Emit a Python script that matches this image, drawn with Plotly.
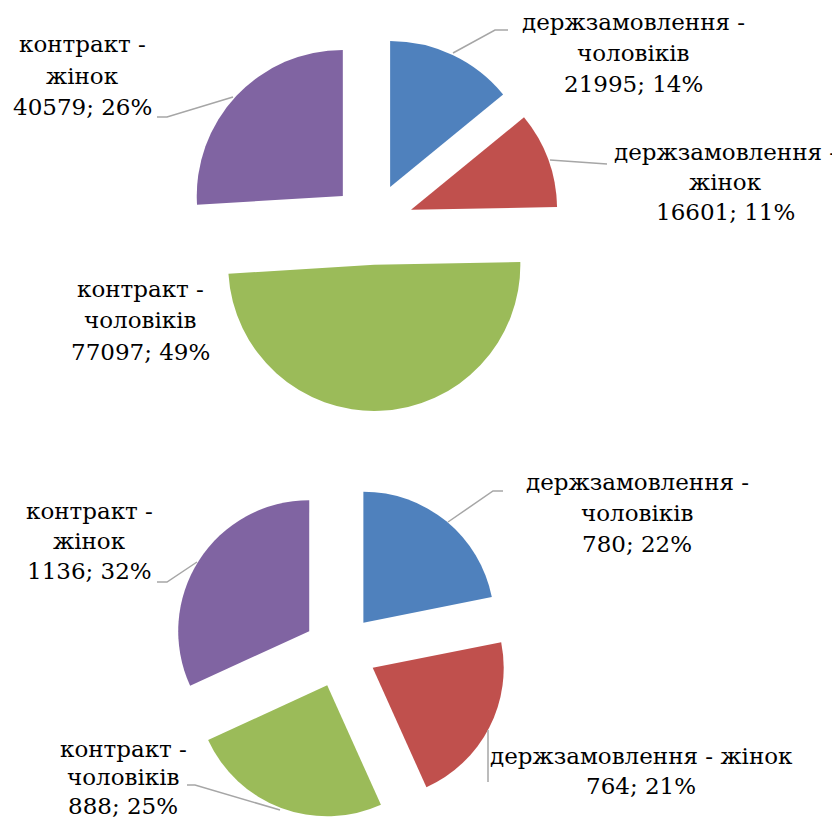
import plotly.graph_objects as go

# дані
labels = ['держзамовлення - чоловіків', 'держзамовлення - жінок',
          'контракт - чоловіків', 'контракт - жінок']
values_top = [21995, 16601, 77097, 40579]
pct_top = ['14%', '11%', '49%', '26%']
values_bottom = [780, 764, 888, 1136]
pct_bottom = ['22%', '21%', '25%', '32%']
colors = ['#4F81BD', '#C0504D', '#9BBB59', '#8064A2']

# сторінка має відступ 8px, тож фігура трохи менша за вікно
OFF = 8
W, H = 840 - OFF, 822 - OFF
FONT = 'DejaVu Serif'
FSIZE = 23


def px(x, y):
    # екранні пікселі -> координати paper
    return (x - OFF) / W, 1 - (y - OFF) / H


fig = go.Figure()

fig.add_trace(go.Pie(
    labels=labels, values=values_top, sort=False, direction='clockwise',
    rotation=0, pull=0.28, textinfo='none', hoverinfo='label+value+percent',
    marker=dict(colors=colors, line=dict(width=0)),
    domain=dict(x=[0.2135, 0.6630], y=[0.5049, 0.9644]),
))
fig.add_trace(go.Pie(
    labels=labels, values=values_bottom, sort=False, direction='clockwise',
    rotation=0, pull=0.28, textinfo='none', hoverinfo='label+value+percent',
    marker=dict(colors=colors, line=dict(width=0)),
    domain=dict(x=[0.1976, 0.6007], y=[0.0040, 0.4161]),
))

# підписи: рядки, центр x та базові лінії рядків (пікселі)
top_lines = [['держзамовлення -', 'чоловіків'], ['держзамовлення -', 'жінок'],
             ['контракт -', 'чоловіків'], ['контракт -', 'жінок']]
top_x = [633, 725, 140, 82]
top_base = [[33, 64, 95], [163, 193, 223], [300, 331, 363], [55, 87, 118]]
bottom_lines = [['держзамовлення -', 'чоловіків'], ['держзамовлення - жінок'],
                ['контракт -', 'чоловіків'], ['контракт -', 'жінок']]
bottom_x = [637, 641, 123, 89]
bottom_base = [[493, 524, 555], [767, 797], [760, 788, 817], [522, 552, 582]]

annotations = []
for lines, x0, bases, v, p in zip(top_lines + bottom_lines, top_x + bottom_x,
                                  top_base + bottom_base,
                                  values_top + values_bottom,
                                  pct_top + pct_bottom):
    for txt, b in zip(lines + [f'{v}; {p}'], bases):
        x, y = px(x0, b - 11)
        annotations.append(dict(
            x=x, y=y, xref='paper', yref='paper', showarrow=False,
            text=txt, xanchor='center', yanchor='middle',
            font=dict(family=FONT, size=FSIZE, color='black'),
        ))

# лінії-виноски
leaders = [
    [(453, 53), (495, 30), (508, 30)],
    [(550, 160), (607, 164)],
    [(233, 97), (167, 117), (157, 117)],
    [(448, 522), (493, 491), (503, 491)],
    [(488, 730), (488, 782)],
    [(280, 810), (195, 785), (187, 785)],
    [(197, 562), (167, 582), (157, 582)],
]
shapes = []
for pts in leaders:
    path = 'M ' + ' L '.join(f'{px(a, b)[0]},{px(a, b)[1]}' for a, b in pts)
    shapes.append(dict(type='path', path=path, xref='paper', yref='paper',
                       line=dict(color='#A6A6A6', width=1.5)))

fig.update_layout(
    width=W, height=H,
    margin=dict(l=0, r=0, t=0, b=0),
    showlegend=False,
    paper_bgcolor='white',
    plot_bgcolor='white',
    annotations=annotations,
    shapes=shapes,
)

fig.write_html('out.html')
